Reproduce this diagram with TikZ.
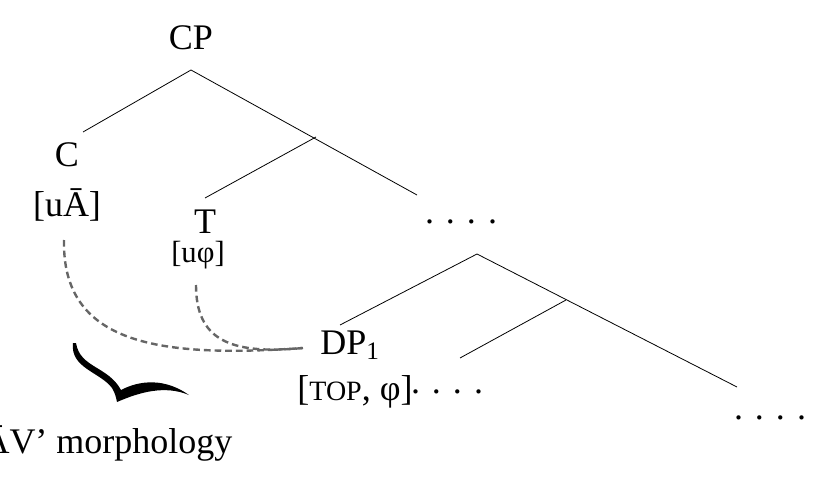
\documentclass[tikz,border=0pt]{standalone}
\usepackage{fontspec}
\setmainfont{Liberation Serif}
\begin{document}
\begin{tikzpicture}[x=0.75pt,y=-0.75pt,
  big/.style={font=\fontsize{27}{30}\selectfont, inner sep=0pt},
  small/.style={font=\fontsize{23}{26}\selectfont, inner sep=0pt},
  br/.style={line width=0.6pt},
  dsh/.style={dashed, line width=1.8pt, draw=gray!80!black, dash pattern=on 5pt off 3pt}]
\useasboundingbox (0,0) rectangle (829,478);
\clip (0,0) rectangle (829,478);
\node[big] (cp) at (191,38) {CP};
\coordinate (cpb) at (191,70);
\coordinate (m1) at (316,137);
\coordinate (c1) at (83,132);
\coordinate (r1) at (417,195);
\coordinate (t1) at (205,198);
\node[big] (c) at (67,155) {C};
\node[big] (cf) at (67,205) {[uĀ]};
\node[big] (t) at (205,222) {T};
\node[small] (tf) at (198,255) {[uφ]};
\node[big] (d1) at (461,222) {.\,\,.\,\,.\,\,.};
\coordinate (n2) at (477,254);
\coordinate (m2) at (566,300);
\coordinate (dpl) at (340,325);
\coordinate (r2) at (737,387);
\coordinate (b2) at (460,358);
\node[big] (dp) at (350,345) {DP\textsubscript{1}};
\node[big] (dpf) at (355,392) {[{\fontsize{21}{24}\selectfont TOP}, φ]};
\node[big] (d2) at (447,392) {.\,\,.\,\,.\,\,.};
\node[big] (d3) at (770,418) {.\,\,.\,\,.\,\,.};
\node[big] (av) at (108,443) {ĀV’ morphology};
\draw[br] (c1) -- (cpb) -- (r1);
\draw[br] (m1) -- (t1);
\draw[br] (dpl) -- (n2) -- (r2);
\draw[br] (m2) -- (b2);
\coordinate (e) at (303,348);
\coordinate (s1) at (64,240);
\coordinate (s2) at (196,285);
\draw[dsh] (s1) .. controls (62,345) and (160,358) .. (e);
\draw[dsh] (s2) .. controls (196,340) and (230,355) .. (e);
\fill (73,343) .. controls (70,368) and (100,372) .. (112,388)
  .. controls (115,393) and (116,397) .. (117,402)
  .. controls (140,392) and (165,385) .. (189,395)
  .. controls (165,378) and (140,380) .. (121,390)
  .. controls (108,366) and (80,368) .. (76,343) -- cycle;
\end{tikzpicture}
\end{document}
